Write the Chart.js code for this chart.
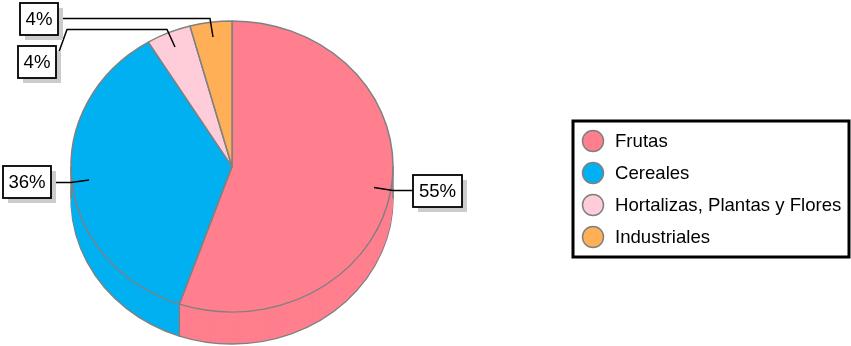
<!DOCTYPE html>
<html>
<head>
<meta charset="utf-8">
<style>
    html, body { margin: 0; padding: 0; background: #fff; overflow: hidden; }
    canvas { display: block; }
</style>
<script src="https://cdn.jsdelivr.net/npm/chart.js@4"></script>
</head>
<body>
<canvas id="pie" width="851" height="346"></canvas>
<script>
const categories = ['Frutas', 'Cereales', 'Hortalizas, Plantas y Flores', 'Industriales'];
const shares = [55.3, 36.0, 4.5, 4.2];
const shareLabels = ['55%', '36%', '4%', '4%'];
const sliceColors = ['#FF7F8E', '#00B0F0', '#FFCCD9', '#FFB057'];

const edgeColor = '#808080';
const textFont = '18.6px "Liberation Sans", Arial, sans-serif';
const squash = 0.904;   // top face is an ellipse, not a circle
const depth = 32;       // height of the pie wall

function slicePath(ctx, arc) {
    ctx.beginPath();
    ctx.moveTo(arc.x, arc.y);
    ctx.arc(arc.x, arc.y, arc.outerRadius, arc.startAngle, arc.endAngle);
    ctx.closePath();
}

// fake 3d: stack filled copies of the slices under the real ones
const pieWall = {
    id: 'pieWall',
    beforeDatasetsDraw(chart) {
        const ctx = chart.ctx;
        const arcs = chart.getDatasetMeta(0).data;
        const cx = arcs[0].x, cy = arcs[0].y, r = arcs[0].outerRadius;

        ctx.save();
        ctx.translate(0, cy);
        ctx.scale(1, squash);
        ctx.translate(0, -cy);

        for (let d = depth; d >= 1; d--) {
            ctx.save();
            ctx.translate(0, d / squash);
            arcs.forEach((arc, i) => {
                slicePath(ctx, arc);
                ctx.fillStyle = sliceColors[i];
                ctx.fill();
                if (d === depth) {
                    ctx.strokeStyle = edgeColor;
                    ctx.lineWidth = 1.5;
                    ctx.stroke();
                }
            });
            ctx.restore();
        }

        // vertical edges: both sides and the seam between pink and blue
        ctx.strokeStyle = edgeColor;
        ctx.lineWidth = 1.5;
        const seamAngle = arcs[0].endAngle;
        [[cx - r, cy], [cx + r, cy],
         [cx + r * Math.cos(seamAngle), cy + r * Math.sin(seamAngle)]].forEach(p => {
            ctx.beginPath();
            ctx.moveTo(p[0], p[1]);
            ctx.lineTo(p[0], p[1] + depth / squash);
            ctx.stroke();
        });
        // scale stays on for the real slices, removed in afterDatasetsDraw
    },
    afterDatasetsDraw(chart) {
        chart.ctx.restore();
        drawCallouts(chart.ctx);
        drawLegendBox(chart.ctx);
    }
};

function drawCallouts(ctx) {
    const callouts = [
        { text: shareLabels[0], box: [413, 175, 49, 32], line: [[374, 187.5], [393, 190.5], [413, 190.5]] },
        { text: shareLabels[1], box: [3, 166, 48, 32], line: [[51, 182.5], [71, 182.5], [89, 180]] },
        { text: shareLabels[2], box: [18, 46, 38, 32], line: [[56, 60], [67, 29.5], [167, 29.5], [175, 47]] },
        { text: shareLabels[3], box: [20, 3, 38, 32], line: [[58, 18.5], [210, 18.5], [213, 37]] }
    ];
    ctx.save();
    callouts.forEach(c => {
        const [x, y, w, h] = c.box;
        ctx.beginPath();
        c.line.forEach((p, i) => i ? ctx.lineTo(p[0], p[1]) : ctx.moveTo(p[0], p[1]));
        ctx.strokeStyle = '#000';
        ctx.lineWidth = 1.5;
        ctx.stroke();

        ctx.fillStyle = '#CCCCCC';
        ctx.fillRect(x + 5, y + 5, w, h);
        ctx.fillStyle = '#fff';
        ctx.fillRect(x, y, w, h);
        ctx.lineWidth = 1.8;
        ctx.strokeRect(x, y, w, h);

        ctx.fillStyle = '#000';
        ctx.font = textFont;
        ctx.textAlign = 'center';
        ctx.textBaseline = 'middle';
        ctx.fillText(c.text, x + w / 2, y + h / 2 + 1);
    });
    ctx.restore();
}

function drawLegendBox(ctx) {
    ctx.save();
    ctx.fillStyle = '#fff';
    ctx.fillRect(573, 121, 276, 136);
    ctx.strokeStyle = '#000';
    ctx.lineWidth = 3;
    ctx.strokeRect(573, 121, 276, 136);
    categories.forEach((name, i) => {
        const y = 141 + i * 32;
        ctx.beginPath();
        ctx.arc(593, y, 10.5, 0, Math.PI * 2);
        ctx.fillStyle = sliceColors[i];
        ctx.fill();
        ctx.strokeStyle = edgeColor;
        ctx.lineWidth = 1.5;
        ctx.stroke();

        ctx.fillStyle = '#000';
        ctx.font = textFont;
        ctx.textAlign = 'left';
        ctx.textBaseline = 'middle';
        ctx.fillText(name, 615, y + 1);
    });
    ctx.restore();
}

new Chart(document.getElementById('pie'), {
    type: 'pie',
    data: {
        labels: categories,
        datasets: [{
            data: shares,
            backgroundColor: sliceColors,
            borderColor: edgeColor,
            borderWidth: 1.5,
            borderAlign: 'center'
        }]
    },
    options: {
        responsive: false,
        animation: false,
        layout: { padding: { left: 70.25, right: 457.25, top: 4.75, bottom: 17.75 } },
        plugins: { legend: { display: false }, tooltip: { enabled: false } }
    },
    plugins: [pieWall]
});
</script>
</body>
</html>
